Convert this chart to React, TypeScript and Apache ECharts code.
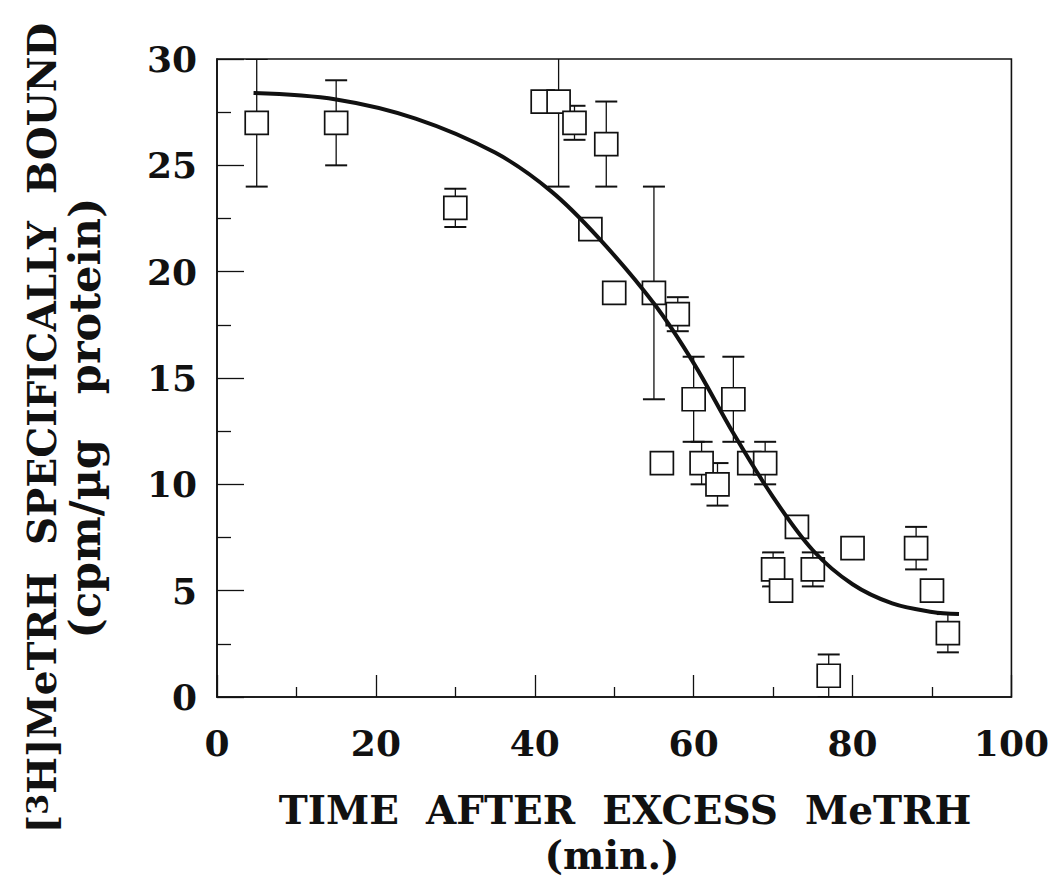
import React, { useEffect, useRef } from "react";
import * as echarts from "echarts";

// Time after excess MeTRH (min.)
const timeMin = [5, 15, 30, 41, 43, 45, 47, 49, 50, 55, 56, 58, 60, 61, 63, 65, 67, 69, 70, 71, 73, 75, 77, 80, 88, 90, 92];
// [3H]MeTRH specifically bound (cpm/µg protein)
const boundMean = [27, 27, 23, 28, 28, 27, 22, 26, 19, 19, 11, 18, 14, 11, 10, 14, 11, 11, 6, 5, 8, 6, 1, 7, 7, 5, 3];
const errLow = [24, 25, 22.1, null, 24, 26.2, null, 24, null, 14, null, 17.2, 12, 10, 9, 12, null, 10, 5.2, null, null, 5.2, 0, null, 6, null, 2.1];
const errHigh = [30, 29, 23.9, null, 32, 27.8, null, 28, null, 24, null, 18.8, 16, 12, 11, 16, null, 12, 6.8, null, null, 6.8, 2, null, 8, null, 3.9];

// fitted curve
const fitTime = [4.6, 15, 25, 35, 42, 48, 55, 60, 65, 70, 75, 80, 85, 90, 93.4];
const fitBound = [28.4, 28.1, 27.2, 25.6, 23.8, 21.6, 18.5, 15.7, 12.4, 9.4, 6.9, 5.3, 4.4, 4.0, 3.9];

const xTicks = { min: 0, max: 100, interval: 20 };
const yTicks = { min: 0, max: 30, interval: 5 };

const INK = "#111";
const SERIF = '"DejaVu Serif", "Liberation Serif", serif';

export default function App() {
  const ref = useRef<HTMLDivElement>(null);
  useEffect(() => {
    if (!ref.current) return;
    const chart = echarts.init(ref.current, undefined, { renderer: "svg" });
    const points = timeMin.map((t, i) => [t, boundMean[i]]);
    const errData: number[][] = [];
    timeMin.forEach((t, i) => {
      if (errLow[i] != null && errHigh[i] != null) errData.push([t, errLow[i] as number, errHigh[i] as number]);
    });
    const fit = fitTime.map((t, i) => [t, fitBound[i]]);
    const axisCommon = {
      type: "value" as const,
      axisLine: { show: true, lineStyle: { color: INK, width: 1.6 } },
      splitLine: { show: false },
      minorSplitLine: { show: false },
    };
    const labelCommon = {
      fontFamily: SERIF,
      fontWeight: "bold" as const,
      fontSize: 36,
      color: INK,
    };
    const titleStyle = (text: string, size: number) => ({
      text,
      fontFamily: SERIF,
      fontWeight: "bold",
      fontSize: size,
      lineHeight: size,
      fill: INK,
      align: "center",
      verticalAlign: "middle",
      textAlign: "center",
      textVerticalAlign: "middle",
    });
    chart.setOption({
      animation: false,
      backgroundColor: "#fff",
      grid: { left: 217, right: 33, top: 59, bottom: 187, show: true, borderColor: INK, borderWidth: 1.6, backgroundColor: "transparent" },
      xAxis: {
        ...axisCommon,
        min: xTicks.min,
        max: xTicks.max,
        interval: xTicks.interval,
        axisTick: { show: true, inside: true, length: 22, lineStyle: { color: INK, width: 1.3 } },
        minorTick: { show: true, splitNumber: 2, length: 10, lineStyle: { color: INK, width: 1.3 } },
        axisLabel: { ...labelCommon, margin: 28 },
      },
      yAxis: {
        ...axisCommon,
        min: yTicks.min,
        max: yTicks.max,
        interval: yTicks.interval,
        axisTick: { show: true, inside: true, length: 27, lineStyle: { color: INK, width: 1.3 } },
        minorTick: { show: true, splitNumber: 2, length: 14, lineStyle: { color: INK, width: 1.3 } },
        axisLabel: { ...labelCommon, margin: 20 },
      },
      series: [
        {
          type: "custom",
          name: "error",
          clip: true,
          z: 2,
          data: errData,
          encode: { x: 0, y: [1, 2] },
          renderItem: (params: any, api: any) => {
            const x = api.value(0);
            const lo = api.coord([x, api.value(1)]);
            const hi = api.coord([x, api.value(2)]);
            const hw = 11;
            const st = { stroke: INK, lineWidth: 1.3 };
            const cap = { stroke: INK, lineWidth: 2 };
            return {
              type: "group",
              children: [
                { type: "line", shape: { x1: lo[0], y1: lo[1], x2: hi[0], y2: hi[1] }, style: st },
                { type: "line", shape: { x1: lo[0] - hw, y1: lo[1], x2: lo[0] + hw, y2: lo[1] }, style: cap },
                { type: "line", shape: { x1: hi[0] - hw, y1: hi[1], x2: hi[0] + hw, y2: hi[1] }, style: cap },
              ],
            };
          },
        },
        {
          type: "scatter",
          name: "bound",
          z: 3,
          symbol: "rect",
          symbolSize: 23,
          data: points,
          itemStyle: { color: "#fff", borderColor: INK, borderWidth: 1.7, opacity: 1 },
        },
        {
          type: "line",
          name: "fit",
          z: 4,
          data: fit,
          smooth: 0.35,
          showSymbol: false,
          symbol: "none",
          lineStyle: { color: INK, width: 4 },
        },
      ],
      graphic: [
        { type: "text", x: 625, y: 810, style: titleStyle("TIME  AFTER  EXCESS  MeTRH", 39) },
        { type: "text", x: 612, y: 855, style: titleStyle("(min.)", 39) },
        {
          type: "text",
          x: 42,
          y: 428,
          rotation: Math.PI / 2,
          style: {
            ...titleStyle("[{sup|3}H]MeTRH  SPECIFICALLY  BOUND", 39),
            rich: {
              sup: { fontSize: 30, fontFamily: SERIF, fontWeight: "bold", fill: INK, verticalAlign: "top" },
            },
          },
        },
        { type: "text", x: 85, y: 418, rotation: Math.PI / 2, style: titleStyle("(cpm/µg   protein)", 43) },
      ],
    });
    return () => chart.dispose();
  }, []);
  return <div ref={ref} style={{ position: "absolute", left: 0, top: 0, width: 1052, height: 884, background: "#fff" }} />;
}
